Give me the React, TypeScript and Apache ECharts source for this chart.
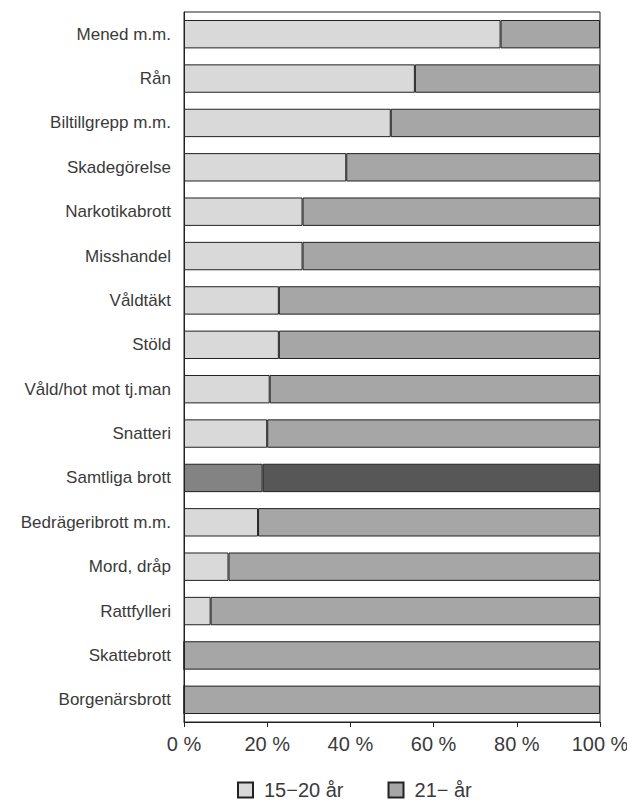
import React, { useEffect, useRef } from "react";
import * as echarts from "echarts";

const categories = [
  "Mened m.m.",
  "Rån",
  "Biltillgrepp m.m.",
  "Skadegörelse",
  "Narkotikabrott",
  "Misshandel",
  "Våldtäkt",
  "Stöld",
  "Våld/hot mot tj.man",
  "Snatteri",
  "Samtliga brott",
  "Bedrägeribrott m.m.",
  "Mord, dråp",
  "Rattfylleri",
  "Skattebrott",
  "Borgenärsbrott",
];

const young = [76.1, 55.5, 49.7, 39.0, 28.5, 28.5, 22.8, 22.8, 20.6, 20.0, 18.9, 17.8, 10.7, 6.4, 0, 0];
const older = [23.9, 44.5, 50.3, 61.0, 71.5, 71.5, 77.2, 77.2, 79.4, 80.0, 81.1, 82.2, 89.3, 93.6, 100, 100];

const seriesNames = ["15\u221220 år", "21\u2212 år"];
const xTicks = [0, 20, 40, 60, 80, 100];

const highlightCategory = "Samtliga brott";

export default function App() {
  const ref = useRef<HTMLDivElement>(null);
  useEffect(() => {
    if (!ref.current) return;
    const chart = echarts.init(ref.current, null, { renderer: "svg" });
    const font = "'Liberation Sans', Arial, Helvetica, sans-serif";
    const mk = (vals: number[], hiColor: string) =>
      vals.map((v, i) =>
        categories[i] === highlightCategory
          ? { value: v, itemStyle: { color: hiColor } }
          : v
      );
    chart.setOption({
      animation: false,
      textStyle: { fontFamily: font },
      grid: {
        left: 184,
        right: 27,
        top: 12,
        bottom: 81,
        show: true,
        borderColor: "#222",
        borderWidth: 1,
        backgroundColor: "transparent",
        outerBoundsMode: "none",
        containLabel: false,
      },
      legend: {
        top: 780,
        left: 237,
        padding: 0,
        icon: "rect",
        itemWidth: 15,
        itemHeight: 15,
        itemGap: 44,
        textStyle: {
          fontSize: 20,
          color: "#3a3a3a",
          fontFamily: font,
          padding: [0, 0, 0, 6],
        },
        data: seriesNames,
      },
      xAxis: {
        type: "value",
        min: xTicks[0],
        max: xTicks[xTicks.length - 1],
        interval: 20,
        axisLine: { show: true, lineStyle: { color: "#222", width: 1 } },
        axisTick: { show: true, length: 5, lineStyle: { color: "#222" } },
        splitLine: { show: false },
        axisLabel: {
          formatter: "{value} %",
          fontSize: 20,
          color: "#3a3a3a",
          margin: 12,
          fontFamily: font,
        },
      },
      yAxis: {
        type: "category",
        data: categories,
        inverse: true,
        axisLine: { show: true, lineStyle: { color: "#222", width: 1 } },
        axisTick: { show: false },
        axisLabel: { fontSize: 17, color: "#3a3a3a", margin: 13, fontFamily: font },
      },
      series: [
        {
          name: seriesNames[0],
          type: "bar",
          stack: "total",
          barCategoryGap: "36%",
          data: mk(young, "#838383"),
          itemStyle: { color: "#d9d9d9", borderColor: "#222", borderWidth: 1 },
        },
        {
          name: seriesNames[1],
          type: "bar",
          stack: "total",
          barCategoryGap: "36%",
          data: mk(older, "#575757"),
          itemStyle: { color: "#a6a6a6", borderColor: "#222", borderWidth: 1 },
        },
      ],
    });
    return () => chart.dispose();
  }, []);
  return (
    <div
      ref={ref}
      style={{ position: "fixed", left: 0, top: 0, width: 627, height: 803, background: "#fff" }}
    />
  );
}
